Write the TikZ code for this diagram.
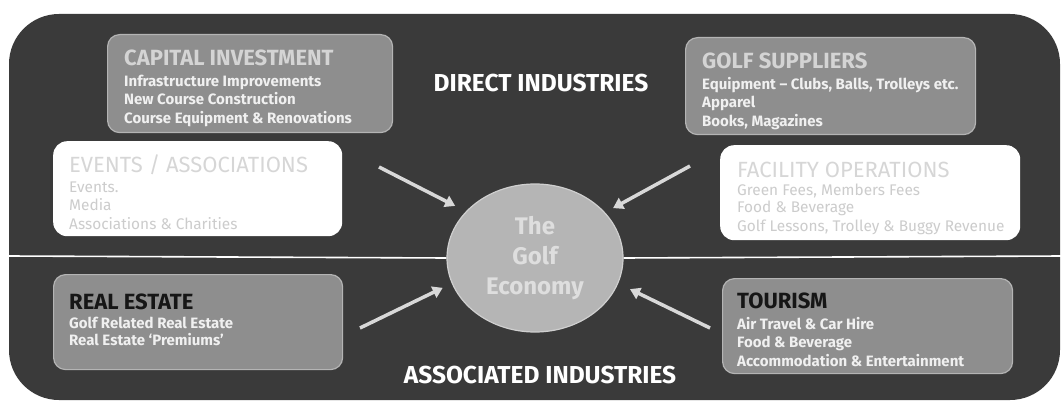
\documentclass[tikz,border=0pt]{standalone}
\usepackage{fontspec}
\setmainfont{Fira Sans}
\usetikzlibrary{shapes.geometric,arrows.meta}

\definecolor{panel}{HTML}{3A3A3A}
\definecolor{boxgray}{HTML}{8E8E8E}
\definecolor{boxedge}{HTML}{B4B4B4}
\definecolor{ecofill}{HTML}{B5B5B5}
\definecolor{ecoedge}{HTML}{CFCFCF}
\definecolor{ecotext}{HTML}{DEDEDE}
\definecolor{feedgray}{HTML}{D8D8D8}
\definecolor{paletitle}{HTML}{D4D4D4}
\definecolor{palebody}{HTML}{F0F0F0}
\definecolor{fainttitle}{HTML}{D6D6D6}
\definecolor{faintbody}{HTML}{CCCCCC}
\definecolor{darktitle}{HTML}{161616}

\tikzset{
  graybox/.style={draw=boxedge, line width=1.2pt, fill=boxgray, rounded corners=12pt,
    anchor=north west, inner sep=0pt},
  whitebox/.style={fill=white, rounded corners=14pt, anchor=north west, inner sep=0pt},
  boxtext/.style={anchor=north west, inner sep=0pt, align=left,
    font=\fontsize{15}{18.5}\selectfont\bfseries, text=palebody},
  softtext/.style={anchor=north west, inner sep=0pt, align=left,
    font=\fontsize{15.4}{19.5}\selectfont, text=faintbody},
  feed/.style={draw=feedgray, line width=3.5pt,
    -{Triangle[length=10pt,width=12pt]}},
  sepline/.style={draw=white, line width=1.6pt},
  heading/.style={text=white, font=\fontsize{24.5}{28}\selectfont\bfseries}
}

\newcommand{\boxtitle}[1]{{\fontsize{22}{26}\selectfont\bfseries #1}}
\newcommand{\softtitle}[1]{{\fontsize{22}{26}\selectfont #1}}

\begin{document}
\begin{tikzpicture}[x=1pt,y=-1pt]
    \useasboundingbox (0,0) rectangle (1063,401);
    \fill[white] (0,0) rectangle (1063,401);
    \fill[panel, rounded corners=50pt] (9,14) rectangle (1060,400);

    % the split between direct and associated
    \coordinate (sepL) at (9,256);
    \coordinate (sepR) at (1062,256);

    \node[ellipse, draw=ecoedge, line width=1.2pt, fill=ecofill,
      minimum width=176pt, minimum height=148pt, inner sep=0pt,
      text=ecotext, align=center, font=\fontsize{24}{30}\selectfont\bfseries]
      (eco) at (535,258) {The\\Golf\\Economy};

    \draw[sepline] (sepL) -- (eco.west);
    \draw[sepline] (eco.east) -- (sepR);

    \node[heading] (direct) at (541,83) {DIRECT INDUSTRIES};
    \node[heading] (assoc) at (540,375) {ASSOCIATED INDUSTRIES};

    % direct industries
    \node[graybox, minimum width=285pt, minimum height=98pt] (capinv) at (107,34) {};
    \node[boxtext] (capinvtxt) at ([xshift=17pt,yshift=-16pt]capinv.north west)
      {\boxtitle{\color{paletitle}CAPITAL INVESTMENT}\\[2pt]
       Infrastructure Improvements\\
       New Course Construction\\
       Course Equipment \& Renovations};

    \node[graybox, minimum width=290pt, minimum height=97pt] (supp) at (685,37) {};
    \node[boxtext] (supptxt) at ([xshift=17pt,yshift=-16pt]supp.north west)
      {\boxtitle{\color{paletitle}GOLF SUPPLIERS}\\[2pt]
       Equipment -- Clubs, Balls, Trolleys etc.\\
       Apparel\\
       Books, Magazines};

    \node[whitebox, minimum width=289pt, minimum height=95pt] (events) at (53,141) {};
    \node[softtext] (eventstxt) at ([xshift=16pt,yshift=-14pt]events.north west)
      {\softtitle{\color{fainttitle}EVENTS / ASSOCIATIONS}\\[0pt]
       Events.\\[-1pt]
       Media\\[-0.5pt]
       Associations \& Charities};

    \node[whitebox, minimum width=300pt, minimum height=95pt] (facil) at (720,145) {};
    \node[softtext] (faciltxt) at ([xshift=17pt,yshift=-17pt]facil.north west)
      {\softtitle{\color{fainttitle}FACILITY OPERATIONS}\\[-2pt]
       Green Fees, Members Fees\\[-2pt]
       Food \& Beverage\\[-1pt]
       Golf Lessons,  Trolley \& Buggy Revenue};

    % associated industries
    \node[graybox, minimum width=289pt, minimum height=95pt] (realest) at (53,274) {};
    \node[boxtext, font=\fontsize{15}{17.5}\selectfont\bfseries]
      (realesttxt) at ([xshift=16pt,yshift=-20pt]realest.north west)
      {\boxtitle{\color{darktitle}REAL ESTATE}\\[1pt]
       Golf Related Real Estate\\
       Real Estate `Premiums'};

    \node[graybox, minimum width=290pt, minimum height=95pt] (tour) at (722,278) {};
    \node[boxtext] (tourtxt) at ([xshift=15pt,yshift=-15pt]tour.north west)
      {\boxtitle{\color{darktitle}TOURISM}\\[2pt]
       Air Travel \& Car Hire\\
       Food \& Beverage\\
       Accommodation \& Entertainment};

    % arrows into the golf economy
    \coordinate (eventsfoot) at (379,167);
    \coordinate (facilfoot) at (690,166);
    \coordinate (realestfoot) at (360,328);
    \coordinate (tourfoot) at (710,328);

    \draw[feed, shorten >=12pt] (eventsfoot) -- (eco.146);
    \draw[feed, shorten >=9pt] (facilfoot) -- (eco.33);
    \draw[feed, shorten >=10pt] (realestfoot) -- (eco.197);
    \draw[feed, shorten >=13pt] (tourfoot) -- (eco.343);
\end{tikzpicture}
\end{document}
